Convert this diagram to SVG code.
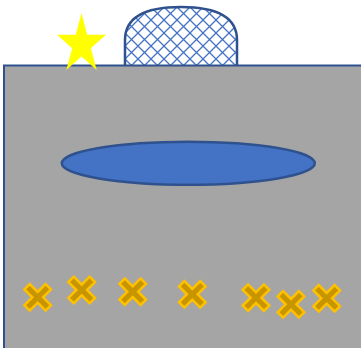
<svg xmlns="http://www.w3.org/2000/svg" width="361" height="348" viewBox="0 0 361 348">
<style>
.cross{fill:#C69500;stroke:#FFC000;stroke-width:2.5;stroke-linejoin:miter}
</style>
<defs>
<pattern id="hatch" patternUnits="userSpaceOnUse" width="13" height="13" x="125" y="7">
<rect width="13" height="13" fill="#FFFFFF"/>
<path d="M0,0 L13,13 M13,0 L0,13" stroke="#4472C4" stroke-width="1.3" fill="none"/>
</pattern>
<path id="x" d="M3.8,-15 V-3.8 H15 V3.8 H3.8 V15 H-3.8 V3.8 H-15 V-3.8 H-3.8 V-15 Z" transform="rotate(45)"/>
</defs>
<rect width="361" height="348" fill="#FFFFFF"/>
<g id="dome">
<path d="M125,66 V40 C125,15 150,7 181,7 C212,7 237,15 237,40 V66" fill="url(#hatch)" stroke="#2F528F" stroke-width="2.5"/>
</g>
<g id="ground">
<rect x="4" y="65.5" width="362" height="290" fill="#A5A5A5" stroke="#2F528F" stroke-width="2"/>
</g>
<g id="star">
<polygon points="81.5,13 87.2,34.8 106,34.8 90.8,48.2 96.7,70 81.5,56.5 66.3,70 72.2,48.2 57,34.8 75.8,34.8" fill="#FFFF00"/>
</g>
<g id="disc">
<ellipse cx="188.3" cy="163.3" rx="126.5" ry="21.5" fill="#4472C4" stroke="#2F528F" stroke-width="2.5"/>
</g>
<g id="crosses" class="cross">
<use href="#x" x="37.7" y="297.3"/>
<use href="#x" x="81.7" y="290"/>
<use href="#x" x="132.7" y="291.7"/>
<use href="#x" x="192.3" y="294.3"/>
<use href="#x" x="256" y="297.7"/>
<use href="#x" x="291" y="304.3"/>
<use href="#x" x="326.7" y="298.3"/>
</g>
</svg>
